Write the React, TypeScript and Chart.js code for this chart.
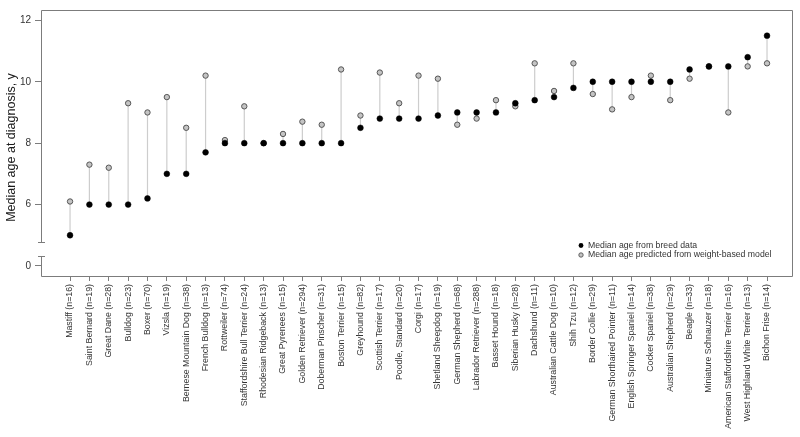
import { useEffect, useRef } from "react";
import { Chart, registerables } from "chart.js";

Chart.register(...registerables);

const breeds = [
  "Mastiff (n=16)",
  "Saint Bernard (n=19)",
  "Great Dane (n=28)",
  "Bulldog (n=23)",
  "Boxer (n=70)",
  "Vizsla (n=19)",
  "Bernese Mountain Dog (n=38)",
  "French Bulldog (n=13)",
  "Rottweiler (n=74)",
  "Staffordshire Bull Terrier (n=24)",
  "Rhodesian Ridgeback (n=13)",
  "Great Pyrenees (n=15)",
  "Golden Retriever (n=294)",
  "Doberman Pinscher (n=31)",
  "Boston Terrier (n=15)",
  "Greyhound (n=82)",
  "Scottish Terrier (n=17)",
  "Poodle, Standard (n=20)",
  "Corgi (n=17)",
  "Shetland Sheepdog (n=19)",
  "German Shepherd (n=68)",
  "Labrador Retriever (n=288)",
  "Basset Hound (n=18)",
  "Siberian Husky (n=28)",
  "Dachshund (n=11)",
  "Australian Cattle Dog (n=10)",
  "Shih Tzu (n=12)",
  "Border Collie (n=29)",
  "German Shorthaired Pointer (n=11)",
  "English Springer Spaniel (n=14)",
  "Cocker Spaniel (n=38)",
  "Australian Shepherd (n=29)",
  "Beagle (n=33)",
  "Miniature Schnauzer (n=18)",
  "American Staffordshire Terrier (n=16)",
  "West Highland White Terrier (n=13)",
  "Bichon Frise (n=14)",
];

const observedAge = [
  5.0, 6.0, 6.0, 6.0, 6.2, 7.0, 7.0, 7.7, 8.0, 8.0, 8.0, 8.0, 8.0, 8.0, 8.0,
  8.5, 8.8, 8.8, 8.8, 8.9, 9.0, 9.0, 9.0, 9.3, 9.4, 9.5, 9.8, 10.0, 10.0, 10.0,
  10.0, 10.0, 10.4, 10.5, 10.5, 10.8, 11.5,
];

const predictedAge = [
  6.1, 7.3, 7.2, 9.3, 9.0, 9.5, 8.5, 10.2, 8.1, 9.2, 8.0, 8.3, 8.7, 8.6, 10.4,
  8.9, 10.3, 9.3, 10.2, 10.1, 8.6, 8.8, 9.4, 9.2, 10.6, 9.7, 10.6, 9.6, 9.1, 9.5,
  10.2, 9.4, 10.1, 10.5, 9.0, 10.5, 10.6,
];

// broken y axis: the tick shown as "0" sits where 4 would be
const yTickValues = [4, 6, 8, 10, 12];
const yTickLabels = ["0", "6", "8", "10", "12"];
const axisBreakUpper = 4.78;
const axisBreakLower = 4.33;

const legendLabels = [
  "Median age from breed data",
  "Median age predicted from weight-based model",
];
const yTitle = "Median age at diagnosis, y";

const FONT = "'Liberation Sans', Arial, sans-serif";
const FRAME = "#7c7c7c";
const TEXT = "#333333";
const GREY_FILL = "#c4c4c4";
const GREY_EDGE = "#555555";

export default function App() {
  const canvasRef = useRef<HTMLCanvasElement | null>(null);

  useEffect(() => {
    if (!canvasRef.current) return;

    const connectorPlugin = {
      id: "connectors",
      beforeDatasetsDraw(chart: any) {
        const { ctx, scales } = chart;
        const xs = scales.x;
        const ys = scales.y;
        ctx.save();
        ctx.strokeStyle = "#cdcdcd";
        ctx.lineWidth = 1.2;
        observedAge.forEach((v, i) => {
          const px = xs.getPixelForValue(i);
          ctx.beginPath();
          ctx.moveTo(px, ys.getPixelForValue(v));
          ctx.lineTo(px, ys.getPixelForValue(predictedAge[i]));
          ctx.stroke();
        });
        ctx.restore();
      },
    };

    const framePlugin = {
      id: "frame",
      afterDraw(chart: any) {
        const { ctx, chartArea, scales } = chart;
        const { left, right, top, bottom } = chartArea;
        const ys = scales.y;
        const L = Math.round(left) + 0.5;
        const R = Math.round(right) + 0.5;
        const T = Math.round(top) + 0.5;
        const B = Math.round(bottom) + 0.5;
        const bu = Math.round(ys.getPixelForValue(axisBreakUpper)) + 0.5;
        const bl = Math.round(ys.getPixelForValue(axisBreakLower)) + 0.5;
        ctx.save();
        ctx.strokeStyle = FRAME;
        ctx.lineWidth = 1;
        ctx.beginPath();
        ctx.moveTo(L, T);
        ctx.lineTo(R, T);
        ctx.lineTo(R, B);
        ctx.lineTo(L, B);
        ctx.moveTo(L, T);
        ctx.lineTo(L, bu);
        ctx.moveTo(L - 3.5, bu);
        ctx.lineTo(L + 3.5, bu);
        ctx.moveTo(L - 3.5, bl);
        ctx.lineTo(L + 3.5, bl);
        ctx.moveTo(L, bl);
        ctx.lineTo(L, B);
        ctx.stroke();

        // y axis title
        ctx.fillStyle = "#1a1a1a";
        ctx.font = `12.5px ${FONT}`;
        ctx.textAlign = "center";
        ctx.textBaseline = "middle";
        ctx.translate(12, 147.5);
        ctx.rotate(-Math.PI / 2);
        ctx.fillText(yTitle, 0, 0);
        ctx.restore();

        // legend
        ctx.save();
        const lx = right - 211;
        const ly = bottom - 30.5;
        const gap = 9.5;
        ctx.font = `8.7px ${FONT}`;
        ctx.textAlign = "left";
        ctx.textBaseline = "middle";
        ctx.fillStyle = TEXT;
        ctx.fillText(legendLabels[0], lx + 7, ly);
        ctx.fillText(legendLabels[1], lx + 7, ly + gap);
        ctx.beginPath();
        ctx.arc(lx, ly, 2.4, 0, Math.PI * 2);
        ctx.fillStyle = "#000";
        ctx.fill();
        ctx.beginPath();
        ctx.arc(lx, ly + gap, 2.2, 0, Math.PI * 2);
        ctx.fillStyle = GREY_FILL;
        ctx.fill();
        ctx.strokeStyle = GREY_EDGE;
        ctx.lineWidth = 0.9;
        ctx.stroke();
        ctx.restore();
      },
    };

    const chart = new Chart(canvasRef.current, {
      type: "scatter",
      data: {
        datasets: [
          {
            label: legendLabels[0],
            data: observedAge.map((v, i) => ({ x: i, y: v })),
            backgroundColor: "#000000",
            borderColor: "#000000",
            borderWidth: 0.5,
            pointRadius: 2.9,
          },
          {
            label: legendLabels[1],
            data: predictedAge.map((v, i) => ({ x: i, y: v })),
            backgroundColor: GREY_FILL,
            borderColor: GREY_EDGE,
            borderWidth: 1,
            pointRadius: 2.7,
          },
        ],
      },
      plugins: [connectorPlugin, framePlugin],
      options: {
        animation: false,
        responsive: true,
        maintainAspectRatio: false,
        layout: { padding: { top: 5, right: 8, bottom: 0, left: 0 } },
        plugins: {
          legend: { display: false },
          tooltip: { enabled: false },
        },
        scales: {
          x: {
            type: "linear",
            min: -1.5,
            max: 37.29,
            afterBuildTicks: (scale: any) => {
              scale.ticks = breeds.map((_, i) => ({ value: i }));
            },
            afterFit: (scale: any) => {
              scale.height = 161;
            },
            border: { display: false },
            grid: {
              drawOnChartArea: false,
              drawTicks: true,
              tickLength: 5,
              color: FRAME,
            },
            ticks: {
              autoSkip: false,
              minRotation: 90,
              maxRotation: 90,
              padding: 3,
              color: TEXT,
              font: { family: FONT, size: 8.8 },
              callback: (value: any) => breeds[Math.round(Number(value))] ?? "",
            },
          },
          y: {
            type: "linear",
            min: 3.673,
            max: 12.337,
            afterBuildTicks: (scale: any) => {
              scale.ticks = yTickValues.map((v) => ({ value: v }));
            },
            afterFit: (scale: any) => {
              scale.width = 41;
            },
            border: { display: false },
            grid: {
              drawOnChartArea: false,
              drawTicks: true,
              tickLength: 6,
              color: FRAME,
            },
            ticks: {
              padding: 4,
              color: TEXT,
              font: { family: FONT, size: 10 },
              callback: (value: any) => {
                const idx = yTickValues.indexOf(Number(value));
                return idx >= 0 ? yTickLabels[idx] : "";
              },
            },
          },
        },
      },
    });

    return () => chart.destroy();
  }, []);

  return (
    <div style={{ position: "fixed", left: 0, top: 0, width: 800, height: 437, background: "#fff" }}>
      <canvas ref={canvasRef} />
    </div>
  );
}
